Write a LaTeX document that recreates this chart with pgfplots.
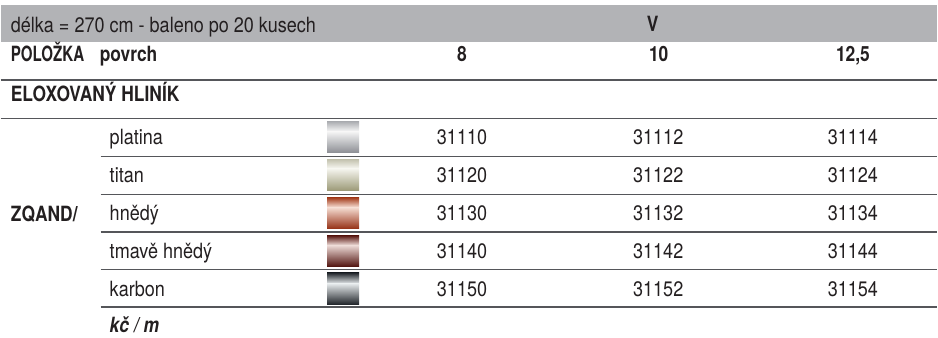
\documentclass[border=0pt]{standalone}
\usepackage{pgfplots}
\pgfplotsset{compat=1.18}
\usepackage{pgfplotstable}
\usepackage{fontspec}
\setmainfont{TeX Gyre Heros}[FakeStretch=0.86]
\newfontfamily\bcn{TeX Gyre Heros}[FakeStretch=0.83]
\newfontfamily\bcnn{TeX Gyre Heros}[FakeStretch=0.72]
\definecolor{txt}{HTML}{231F20}
\definecolor{band}{HTML}{B2B3B6}
\definecolor{rule}{HTML}{55565A}

\pgfplotstableread[col sep=comma]{
x,y,code
462,145,31110
658.5,145,31112
853.5,145,31114
462,183,31120
658.5,183,31122
853.5,183,31124
462,221,31130
658.5,221,31132
853.5,221,31134
462,259,31140
658.5,259,31142
853.5,259,31144
462,297,31150
658.5,297,31152
853.5,297,31154
}\codes

\pgfplotstableread[col sep=comma]{
x,y,name
109,145,platina
109,183,titan
109,221,hnědý
109,259,tmavě hnědý
109,297,karbon
}\surf

\begin{document}
\begin{tikzpicture}
\begin{axis}[
  width=938pt, height=338pt, scale only axis,
  xmin=0, xmax=938, ymin=0, ymax=338, y dir=reverse,
  hide axis, clip=false,
]
\path (axis cs:0,0) rectangle (axis cs:938,338);
\fill[band] (axis cs:0,5) rectangle (axis cs:938,42);

% rules
\draw[rule, line width=1.4pt] (axis cs:0,80) -- (axis cs:938,80);
\draw[rule, line width=1.4pt] (axis cs:0,118.5) -- (axis cs:938,118.5);
\draw[rule, line width=1.4pt] (axis cs:100,156.5) -- (axis cs:938,156.5);
\draw[rule, line width=1.4pt] (axis cs:100,194.5) -- (axis cs:938,194.5);
\draw[rule, line width=1.4pt] (axis cs:100,232.5) -- (axis cs:938,232.5);
\draw[rule, line width=1.4pt] (axis cs:100,270) -- (axis cs:938,270);
\draw[rule, line width=1.4pt] (axis cs:100,307.5) -- (axis cs:938,307.5);

% swatches
% platina
\shade[top color={rgb,255:red,174;green,176;blue,180}, bottom color={rgb,255:red,246;green,246;blue,246}] (axis cs:327,122) rectangle (axis cs:359,131.5);
\shade[top color={rgb,255:red,246;green,246;blue,246}, bottom color={rgb,255:red,140;green,142;blue,148}] (axis cs:327,131.5) rectangle (axis cs:359,153);
% titan
\shade[top color={rgb,255:red,198;green,197;blue,178}, bottom color={rgb,255:red,246;green,246;blue,240}] (axis cs:327,160) rectangle (axis cs:359,168.5);
\shade[top color={rgb,255:red,246;green,246;blue,240}, bottom color={rgb,255:red,155;green,153;blue,118}] (axis cs:327,168.5) rectangle (axis cs:359,191);
% hnedy
\shade[top color={rgb,255:red,165;green,64;blue,32}, bottom color={rgb,255:red,246;green,222;blue,212}] (axis cs:327,198) rectangle (axis cs:359,207.5);
\shade[top color={rgb,255:red,246;green,222;blue,212}, bottom color={rgb,255:red,150;green,50;blue,22}] (axis cs:327,207.5) rectangle (axis cs:359,229);
% tmave hnedy
\shade[top color={rgb,255:red,92;green,26;blue,20}, bottom color={rgb,255:red,238;green,220;blue,216}] (axis cs:327,236) rectangle (axis cs:359,245.5);
\shade[top color={rgb,255:red,238;green,220;blue,216}, bottom color={rgb,255:red,80;green,18;blue,14}] (axis cs:327,245.5) rectangle (axis cs:359,267);
% karbon
\shade[top color={rgb,255:red,30;green,35;blue,40}, bottom color={rgb,255:red,230;green,234;blue,236}] (axis cs:327,273) rectangle (axis cs:359,284);
\shade[top color={rgb,255:red,230;green,234;blue,236}, bottom color={rgb,255:red,36;green,40;blue,45}] (axis cs:327,284) rectangle (axis cs:359,304.5);

% header texts
\begin{scope}[every node/.style={inner sep=0pt, text=txt, font=\fontsize{21}{25}\selectfont}]
\node[anchor=base west] at (axis cs:10,33) {délka = 270 cm - baleno po 20 kusech};
\node[anchor=base] at (axis cs:653,32) {\bcn\bfseries V};
\node[anchor=base west] at (axis cs:10,62) {\bcnn\bfseries POLOŽKA};
\node[anchor=base west] at (axis cs:99,62) {\bcn\bfseries povrch};
\node[anchor=base] at (axis cs:462,62) {\bcn\bfseries 8};
\node[anchor=base] at (axis cs:659,62) {\bcn\bfseries 10};
\node[anchor=base] at (axis cs:853.5,62) {\bcn\bfseries 12,5};
\node[anchor=base west] at (axis cs:10,101.5) {\bcn\bfseries ELOXOVANÝ HLINÍK};
\node[anchor=base west] at (axis cs:10,221.5) {\bcn\bfseries ZQAND/};
\node[anchor=base west] at (axis cs:109,333) {\bcn\bfseries\itshape kč / m};
\end{scope}

\addplot[draw=none, mark=none, nodes near coords, point meta=explicit symbolic,
  nodes near coords align={anchor=base},
  every node near coord/.style={anchor=base, inner sep=0pt, text=txt, font=\fontsize{21}{25}\selectfont}]
  table[x=x, y=y, meta=code] {\codes};
\addplot[draw=none, mark=none, nodes near coords, point meta=explicit symbolic,
  every node near coord/.style={anchor=base west, inner sep=0pt, text=txt, font=\fontsize{21}{25}\selectfont}]
  table[x=x, y=y, meta=name] {\surf};
\end{axis}
\end{tikzpicture}
\end{document}
